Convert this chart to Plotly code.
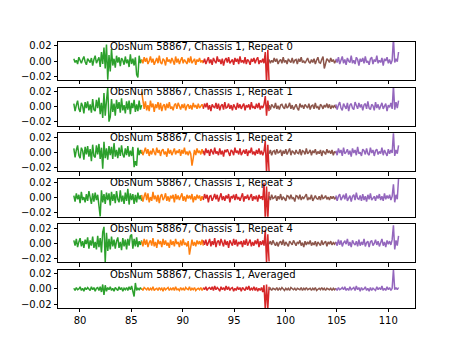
import numpy as np
import plotly.graph_objects as go
from plotly.subplots import make_subplots

# segment x-extents
seg_start = [79.4, 86.0, 92.0, 98.4, 104.9]
seg_end = [86.0, 92.0, 98.4, 104.9, 111.0]
seg_colors = ["#2ca02c", "#ff7f0e", "#d62728", "#8c564b", "#9467bd"]

titles = [
    "ObsNum 58867, Chassis 1, Repeat 0",
    "ObsNum 58867, Chassis 1, Repeat 1",
    "ObsNum 58867, Chassis 1, Repeat 2",
    "ObsNum 58867, Chassis 1, Repeat 3",
    "ObsNum 58867, Chassis 1, Repeat 4",
    "ObsNum 58867, Chassis 1, Averaged",
]

# values in units of 0.001
rep0_green = [3,-2,1,-4,5,0,-3,2,6,-1,-5,3,1,-2,4,-6,2,7,-3,0,5,-8,12,-4,18,-10,22,-25,8,-14,16,-6,3,-9,7,-2,5,-7,4,1,-5,6,-3,2,-8,9,-4,3,-6,5,-18,-22,7,-3,2]
rep0_orange = [2,-3,5,-1,4,-4,0,6,-2,3,-5,1,4,-3,7,-2,-4,3,1,-6,5,-1,2,-3,4,0,-5,6,-2,3,-4,1,5,-3,2,-1,-4,4,-2,6,-3,0,3,-5,2,-1,4,-2,1,-3]
rep0_red = [-2,3,-4,1,5,-3,2,-5,4,0,-3,6,-1,2,-4,3,-6,1,4,-2,5,-3,0,2,-5,4,-1,3,-4,6,-2,1,-3,5,-4,2,0,-5,3,-1,4,-3,2,5,-4,1,-2,3,-3,12,-30,15,-28]
rep0_brown = [2,-3,1,-2,4,-1,3,-4,0,2,-3,5,-2,1,-4,3,0,-2,4,-3,1,2,-4,3,-1,5,-2,0,-3,2,4,-1,-3,2,-2,3,-4,1,5,-2,-3,2,6,-10,-4,3,1,-2,4,-1,2,-3,1]
rep0_purple = [3,-2,5,-4,1,6,-3,2,-5,4,0,-2,7,-3,1,-4,5,2,-6,3,-1,4,-3,6,-2,0,-5,3,5,-4,2,-1,7,-3,1,-2,4,-6,3,0,5,-3,2,-4,1,30,-2,3,-1,12]

rep1_green = [4,-6,2,8,-3,-7,5,1,-9,6,-2,7,-5,3,-8,10,-4,-6,9,-2,12,-10,5,-15,18,-12,8,25,-20,-14,10,-7,4,-12,9,-3,6,-8,11,-5,2,-9,7,-4,8,-10,5,-2,9,-7,3,-6,8,-4,2]
rep1_orange = [20,4,-3,7,-5,2,-6,8,-1,4,-7,3,-2,6,-4,5,-6,1,3,-5,4,-2,6,-3,0,-5,2,4,-3,5,-1,-4,3,-2,4,-5,1,3,-3,2,-4,5,-1,2,-3,4,-2,0,3,-2]
rep1_red = [-3,4,-1,5,-4,2,-6,3,0,-2,5,-3,4,-5,1,3,-4,6,-2,-1,4,-3,2,-5,3,0,-4,5,-2,3,-3,1,4,-5,2,-1,3,-4,6,-2,0,-3,4,-2,5,-4,1,-2,3,14,-12,8,-6]
rep1_brown = [2,-4,3,0,-2,5,-3,1,-4,2,3,-1,-3,4,-2,0,5,-3,2,-4,1,3,-2,-5,4,-1,2,-3,3,0,-2,4,-4,1,2,-3,5,-2,0,-4,3,1,-3,2,-1,4,-2,3,-3,1,-1,2,-2]
rep1_purple = [3,-4,2,6,-2,-5,4,1,-3,5,-6,2,4,-2,-4,6,0,-3,5,-1,3,-5,2,4,-3,7,-2,-4,3,1,-5,6,-2,3,-4,2,5,-3,0,4,-6,2,-1,5,-3,28,-4,6,-2,8]

rep2_green = [5,-7,3,9,-4,-8,6,2,-10,7,-3,8,-6,4,-12,10,-5,-7,9,-3,11,-9,6,-22,14,-8,5,-10,8,-4,7,-9,12,-6,3,-8,6,-5,9,-3,-7,5,-4,8,-6,2,-5,7,-20,-12,-18,6,-4,3,-2]
rep2_orange = [3,-4,1,6,-2,4,-5,2,-3,5,0,-4,6,-1,3,-5,2,4,-3,1,-6,5,-2,3,-4,0,5,-3,2,-1,4,-5,3,-2,6,-3,1,-4,2,-2,-18,-8,3,-4,5,-1,2,-3,4,-2]
rep2_red = [2,-4,5,-1,3,-5,4,0,-3,6,-2,1,-4,5,-3,2,-6,3,0,4,-2,-5,3,1,-4,6,-1,2,-3,5,-4,0,3,-2,4,-5,2,-1,6,-3,1,-4,3,-2,5,-3,2,-4,1,15,-28,10,-26]
rep2_brown = [-2,3,-4,1,2,-3,4,-1,0,3,-5,2,-2,4,-3,1,5,-4,2,0,-3,3,-1,-2,4,-4,2,1,-3,5,-2,0,3,-4,2,-1,4,-3,1,-2,3,-5,2,0,-3,4,-1,2,-2,3,-4,1,-1]
rep2_purple = [2,-4,5,-1,3,-5,6,-2,0,4,-3,2,-6,5,-1,3,-4,7,-2,0,-5,4,2,-3,5,-2,-4,6,-1,3,-5,2,4,-3,1,-2,6,-4,3,0,-5,4,-2,3,-1,26,-5,3,-2,9]

rep3_green = [3,-5,6,-2,4,-7,8,-3,1,-6,5,-4,9,-2,-8,6,-5,7,-3,4,-9,-25,10,-6,5,-8,7,-3,6,-10,8,-4,5,-7,9,-2,-6,10,-5,3,-8,7,-4,12,-9,6,-3,5,-8,4,-6,7,-2,3,-4]
rep3_orange = [4,-5,2,7,-3,6,-6,1,-4,8,-2,3,-5,4,-7,2,5,-3,0,6,-4,2,-5,3,-1,4,-6,5,-2,3,-3,1,6,-4,2,-5,4,-1,3,-2,5,-6,2,-3,4,-1,3,-4,2,-2]
rep3_red = [-3,5,-1,4,-6,2,3,-4,0,5,-2,4,-5,1,6,-3,2,-4,3,-1,5,-6,2,0,4,-3,5,-2,1,-4,3,6,-5,2,-1,4,-3,0,5,-4,2,-2,3,-5,4,-1,2,-3,20,-30,15,-28,8]
rep3_brown = [2,-3,4,-1,0,3,-4,2,-2,5,-3,1,-1,-4,3,2,-2,4,-1,0,-5,3,2,-2,4,-3,1,-1,2,5,-3,0,-2,4,-4,1,3,-1,-2,2,-3,4,-1,0,3,-2,1,-3,2,-1,2,-2,1]
rep3_purple = [3,-4,2,5,-3,1,4,-2,6,-4,0,3,-5,2,4,-3,7,-1,-2,3,-4,5,-3,2,-5,4,-2,6,-3,0,2,-4,3,-1,5,-3,2,-4,6,-2,3,-1,4,-3,2,18,-6,4,-2,26]

rep4_green = [4,-3,6,-5,2,7,-4,3,-6,5,-1,8,-7,4,-3,9,-6,2,-8,10,-5,7,-12,15,22,-25,14,-10,6,-8,9,-4,5,-7,3,8,-6,2,-9,7,-4,5,-8,6,-3,10,12,-7,6,-4,8,-5,3,-2,4]
rep4_orange = [3,-4,6,-2,5,-5,1,4,-3,7,-4,2,-6,5,-1,3,-5,6,-2,4,-3,1,-6,5,-2,3,-4,6,-1,2,-5,4,-3,6,-2,1,-4,3,-15,-6,5,-3,2,-4,4,-1,3,-2,5,-3]
rep4_red = [4,-2,5,-3,1,6,-4,3,-2,7,-5,2,4,-3,6,-1,-4,5,-2,3,-6,4,0,-3,6,-2,5,-4,2,-1,3,-5,4,-2,6,-3,1,5,-4,2,-3,4,-1,6,-5,3,-2,4,-3,18,-26,12,-24]
rep4_brown = [-1,3,-2,4,0,-3,2,-4,1,3,-2,5,-3,2,-1,-4,3,1,-2,4,-1,-3,2,0,4,-3,1,-5,3,-2,2,-1,4,-3,1,-2,3,-4,2,0,-3,4,-2,1,3,-4,2,-1,3,-2,1,-1,2]
rep4_purple = [2,-3,5,-2,4,-4,1,3,-1,6,-3,2,-5,4,0,-2,3,-4,5,-3,2,-2,6,-4,1,3,-5,2,4,-3,0,5,-2,3,-4,1,6,-3,2,-5,4,-1,3,-2,5,24,-8,4,-3,10]

avg_green = [1,-2,2,-1,0,3,-2,1,-3,2,-1,2,0,-2,3,-1,2,-3,1,2,-2,3,-4,6,-8,5,-3,2,-1,3,-2,1,-3,2,0,-2,3,-1,2,-3,1,-1,2,-2,3,-1,4,-3,-10,8,-2,1,-1,2,-1]
avg_orange = [1,-2,2,0,-1,2,-2,1,-1,3,-2,0,1,-2,2,-1,1,-3,2,-1,0,2,-2,1,-1,2,-2,3,-1,0,-2,2,-1,1,-2,2,0,-1,3,-2,1,-1,2,-2,0,1,-1,2,-2,1]
avg_red = [2,-1,3,-2,1,2,-1,3,-2,4,-1,2,0,-3,3,-1,2,-2,4,-1,3,-2,1,2,-3,1,-2,3,-1,2,-3,2,0,-2,3,-1,4,-2,1,-1,3,-2,2,-3,1,-2,2,-4,5,-28,6,-26,3]
avg_brown = [-1,1,-2,1,0,-1,2,-2,1,-1,2,0,-2,1,-1,1,-2,2,0,-1,1,-2,1,0,-1,2,-2,1,-1,2,-1,0,1,-2,1,-1,2,-2,0,1,-1,2,-1,1,-2,1,0,-1,1,-2,1,-1,1]
avg_purple = [1,-2,2,-1,0,2,-1,3,-2,1,-2,3,-1,0,2,-2,4,-1,2,-3,2,-1,0,3,-2,1,-3,2,-2,1,0,-2,3,-1,2,-1,4,-2,1,-2,3,-1,2,-2,1,26,-1,2,-1,2]

panels = [
    [rep0_green, rep0_orange, rep0_red, rep0_brown, rep0_purple],
    [rep1_green, rep1_orange, rep1_red, rep1_brown, rep1_purple],
    [rep2_green, rep2_orange, rep2_red, rep2_brown, rep2_purple],
    [rep3_green, rep3_orange, rep3_red, rep3_brown, rep3_purple],
    [rep4_green, rep4_orange, rep4_red, rep4_brown, rep4_purple],
    [avg_green, avg_orange, avg_red, avg_brown, avg_purple],
]

y_ticks = [-0.02, 0.0, 0.02]
y_ticktext = ["\u22120.02", "0.00", "0.02"]
x_ticks = [80, 85, 90, 95, 100, 105, 110]

W, H = 461, 346
fig = make_subplots(rows=6, cols=1, shared_xaxes=True, vertical_spacing=0.02857)

for r, segs in enumerate(panels, start=1):
    for vals, a, b, c in zip(segs, seg_start, seg_end, seg_colors):
        xs = np.linspace(a, b, len(vals))
        ys = np.array(vals) * 0.001
        fig.add_trace(go.Scatter(x=xs, y=ys, mode="lines",
                                 line=dict(color=c, width=1.5),
                                 showlegend=False, hoverinfo="skip"),
                      row=r, col=1)
    fig.update_yaxes(range=[-0.0253, 0.0253], tickvals=y_ticks, ticktext=y_ticktext,
                     row=r, col=1)
    fig.update_xaxes(range=[77.86, 112.6], tickvals=x_ticks,
                     showticklabels=(r == 6), row=r, col=1)
    yref = "y" if r == 1 else f"y{r}"
    xref = "x" if r == 1 else f"x{r}"
    fig.add_annotation(x=82.85, y=0.0198, xref=xref, yref=yref, text=titles[r - 1],
                       showarrow=False, xanchor="left", yanchor="middle",
                       font=dict(size=10, color="black", family="DejaVu Sans"),
                       xshift=-1)

axis_style = dict(showline=True, mirror=True, linecolor="black", linewidth=0.8,
                  ticks="outside", ticklen=3.5, tickwidth=0.8, tickcolor="black",
                  showgrid=False, zeroline=False,
                  tickfont=dict(size=10, color="black", family="DejaVu Sans"))
fig.update_xaxes(**axis_style)
fig.update_yaxes(**axis_style)

fig.update_layout(
    width=W, height=H,
    margin=dict(l=57.6, r=46.1, t=41.5, b=38),
    paper_bgcolor="white", plot_bgcolor="white",
    font=dict(family="DejaVu Sans", size=10, color="black"),
)

fig.write_html("out.html", config={"displayModeBar": False})
